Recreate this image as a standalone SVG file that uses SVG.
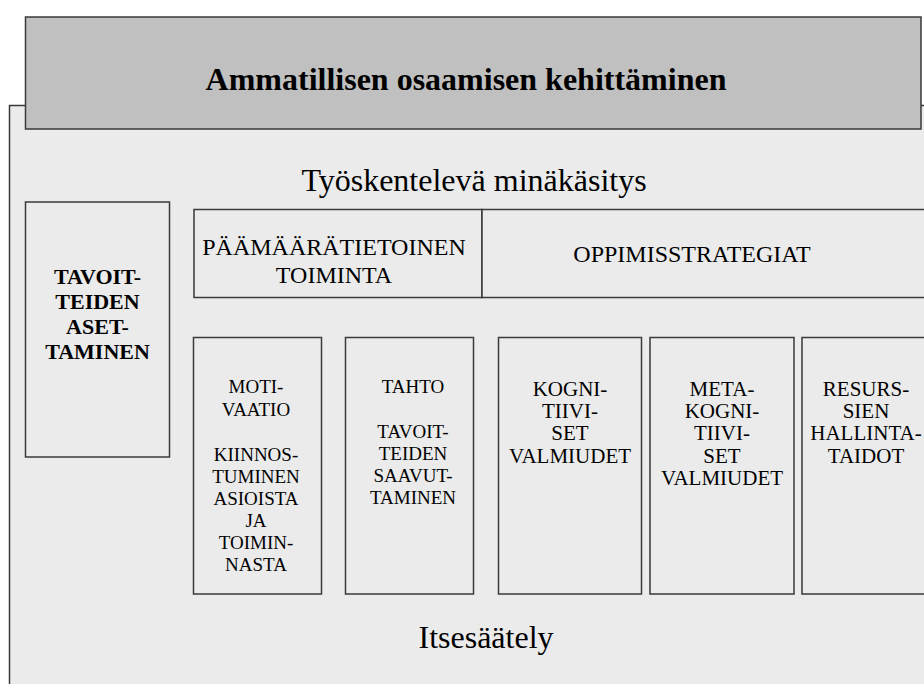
<svg xmlns="http://www.w3.org/2000/svg" width="924" height="684" viewBox="0 0 924 684">
  <style>
    .box { fill: #ebebeb; stroke: #3a3a3a; stroke-width: 1.5; }
    .big { font: normal 32px "Liberation Serif", "Times New Roman", serif; fill: #000; text-anchor: middle; }
    .ttl { font: bold 32px "Liberation Serif", "Times New Roman", serif; fill: #000; text-anchor: middle; }
    .mid { font: normal 24px "Liberation Serif", "Times New Roman", serif; fill: #000; text-anchor: middle; }
    .sm { font: normal 19px "Liberation Serif", "Times New Roman", serif; fill: #000; text-anchor: middle; }
    .md { font: normal 21px "Liberation Serif", "Times New Roman", serif; fill: #000; text-anchor: middle; }
    .mb { font: bold 22px "Liberation Serif", "Times New Roman", serif; fill: #000; text-anchor: middle; }
  </style>
  <rect x="0" y="0" width="924" height="684" fill="#ffffff"/>
  <g id="panel">
    <rect x="9.5" y="105.5" width="930" height="600" fill="#ebebeb" stroke="#3a3a3a" stroke-width="1.5"/>
    <text class="big" x="474" y="191">Työskentelevä minäkäsitys</text>
    <text class="big" x="486" y="648">Itsesäätely</text>
  </g>
  <g id="header">
    <rect x="25.5" y="17" width="895.5" height="112" fill="#c0c0c0" stroke="#3a3a3a" stroke-width="1.5"/>
    <text class="ttl" x="466" y="90">Ammatillisen osaamisen kehittäminen</text>
  </g>
  <g id="tavoitteiden-asettaminen">
    <rect class="box" x="25.5" y="202" width="144" height="255"/>
    <text class="mb" x="97.5" y="284">TAVOIT-</text>
    <text class="mb" x="97.5" y="309">TEIDEN</text>
    <text class="mb" x="97.5" y="334">ASET-</text>
    <text class="mb" x="97.5" y="359">TAMINEN</text>
  </g>
  <g id="paamaaratietoinen">
    <rect class="box" x="194" y="209.5" width="288" height="88"/>
    <text class="mid" x="334" y="255">PÄÄMÄÄRÄTIETOINEN</text>
    <text class="mid" x="334" y="283">TOIMINTA</text>
  </g>
  <g id="oppimisstrategiat">
    <rect class="box" x="482" y="209.5" width="460" height="88"/>
    <text class="mid" x="692" y="262">OPPIMISSTRATEGIAT</text>
  </g>
  <g id="motivaatio">
    <rect class="box" x="193.5" y="337.5" width="128" height="256.5"/>
    <text class="sm" x="256" y="393">MOTI-</text>
    <text class="sm" x="256" y="416">VAATIO</text>
    <text class="sm" x="256" y="461">KIINNOS-</text>
    <text class="sm" x="256" y="483">TUMINEN</text>
    <text class="sm" x="256" y="505">ASIOISTA</text>
    <text class="sm" x="256" y="527">JA</text>
    <text class="sm" x="256" y="549">TOIMIN-</text>
    <text class="sm" x="256" y="571">NASTA</text>
  </g>
  <g id="tahto">
    <rect class="box" x="345.5" y="337.5" width="128" height="256.5"/>
    <text class="sm" x="413" y="393">TAHTO</text>
    <text class="sm" x="413" y="438">TAVOIT-</text>
    <text class="sm" x="413" y="460">TEIDEN</text>
    <text class="sm" x="413" y="482">SAAVUT-</text>
    <text class="sm" x="413" y="504">TAMINEN</text>
  </g>
  <g id="kognitiiviset">
    <rect class="box" x="498.5" y="337.5" width="143" height="256.5"/>
    <text class="md" x="570" y="396">KOGNI-</text>
    <text class="md" x="570" y="418">TIIVI-</text>
    <text class="md" x="570" y="440">SET</text>
    <text class="md" x="570" y="463">VALMIUDET</text>
  </g>
  <g id="metakognitiiviset">
    <rect class="box" x="650" y="337.5" width="144" height="256.5"/>
    <text class="md" x="722" y="396">META-</text>
    <text class="md" x="722" y="418">KOGNI-</text>
    <text class="md" x="722" y="440">TIIVI-</text>
    <text class="md" x="722" y="463">SET</text>
    <text class="md" x="722" y="485">VALMIUDET</text>
  </g>
  <g id="resurssien">
    <rect class="box" x="802" y="337.5" width="140" height="256.5"/>
    <text class="md" x="866" y="396">RESURS-</text>
    <text class="md" x="866" y="418">SIEN</text>
    <text class="md" x="866" y="440">HALLINTA-</text>
    <text class="md" x="866" y="463">TAIDOT</text>
  </g>
</svg>
